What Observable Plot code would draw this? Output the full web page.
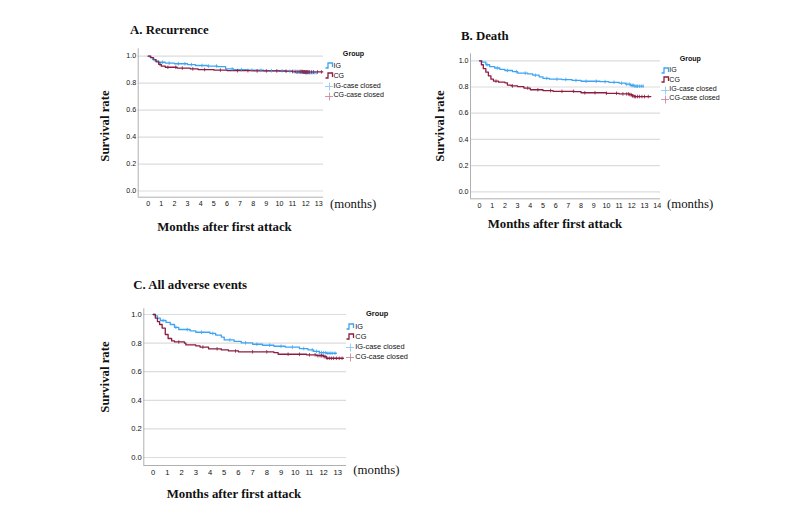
<!DOCTYPE html>
<html><head><meta charset="utf-8">
<script src="https://cdn.jsdelivr.net/npm/d3@7"></script>
<script src="https://cdn.jsdelivr.net/npm/@observablehq/plot@0.6"></script>
<style>
body{margin:0;background:#fff;}
#wrap{position:relative;width:800px;height:511px;overflow:hidden;background:#fff;}
#wrap svg.layer{position:absolute;left:0;top:0;background:transparent;}
.t{position:absolute;white-space:nowrap;line-height:1;}
.serifB{font-family:"Liberation Serif","Times New Roman",serif;font-weight:bold;color:#111;}
.serif{font-family:"Liberation Serif","Times New Roman",serif;color:#111;}
.leg{font-family:"Liberation Sans",Arial,sans-serif;color:#111;}
</style></head>
<body><div id="wrap"></div>
<script>
// ---------- data ----------
const monthsA = [0,1,2,3,4,5,6,7,8,9,10,11,12,13];
const monthsB = [0,1,2,3,4,5,6,7,8,9,10,11,12,13,14];
const monthsC = [0,1,2,3,4,5,6,7,8,9,10,11,12,13];
const yTicks = [0,0.2,0.4,0.6,0.8,1.0];
const groupLabels = ["IG","CG","IG-case closed","CG-case closed"];
const panelTitles = ["A. Recurrence","B. Death","C. All adverse events"];
const yTitle = "Survival rate";
const xTitle = "Months after first attack";
const unitLabel = "(months)";

// [month, survival] – Kaplan-Meier steps
const recurIG = [[0,1.0],[0.15,0.99],[0.35,0.975],[0.55,0.965],[0.8,0.955],[1.3,0.949],[2.0,0.944],[3.0,0.938],[3.6,0.931],[4.5,0.927],[5.3,0.922],[5.9,0.906],[6.5,0.9],[7.5,0.896],[8.8,0.892],[10.5,0.888],[11.2,0.882],[12.0,0.878],[12.8,0.878]];
const recurCG = [[0,1.0],[0.2,0.99],[0.4,0.975],[0.6,0.958],[0.8,0.94],[1.0,0.926],[1.3,0.918],[2.2,0.912],[3.2,0.906],[3.8,0.901],[5.0,0.897],[6.0,0.893],[8.0,0.891],[10.0,0.889],[11.0,0.886],[11.8,0.883],[13.3,0.883]];
const deathIG = [[0,1.0],[0.2,0.99],[0.5,0.97],[0.8,0.955],[1.2,0.945],[1.6,0.934],[2.0,0.926],[2.6,0.918],[3.0,0.906],[3.8,0.9],[4.2,0.89],[4.7,0.878],[5.0,0.866],[5.5,0.86],[6.5,0.857],[7.3,0.85],[8.0,0.844],[9.5,0.841],[10.2,0.836],[11.0,0.829],[11.5,0.822],[11.9,0.812],[12.2,0.806],[12.9,0.806]];
const deathCG = [[0,1.0],[0.15,0.97],[0.3,0.94],[0.5,0.913],[0.7,0.885],[0.9,0.86],[1.1,0.845],[1.5,0.837],[2.0,0.832],[2.2,0.815],[2.5,0.808],[3.0,0.803],[3.5,0.792],[4.0,0.779],[5.0,0.773],[5.8,0.767],[7.5,0.764],[8.0,0.756],[10.0,0.752],[11.0,0.747],[11.8,0.742],[12.0,0.733],[12.2,0.727],[13.5,0.727]];
const allIG = [[0,1.0],[0.15,0.99],[0.3,0.975],[0.5,0.958],[0.9,0.945],[1.2,0.93],[1.5,0.91],[1.8,0.895],[2.6,0.885],[3.0,0.876],[4.0,0.868],[4.4,0.856],[4.8,0.842],[5.0,0.822],[5.7,0.812],[6.2,0.802],[7.0,0.792],[7.7,0.785],[8.5,0.778],[9.3,0.772],[10.3,0.762],[10.9,0.752],[11.3,0.742],[11.7,0.733],[12.2,0.729],[12.9,0.729]];
const allCG = [[0,1.0],[0.15,0.975],[0.3,0.95],[0.45,0.93],[0.63,0.905],[0.85,0.86],[1.05,0.832],[1.3,0.815],[1.5,0.808],[2.2,0.8],[2.3,0.787],[3.0,0.78],[3.3,0.772],[3.9,0.76],[4.8,0.752],[5.3,0.745],[6.0,0.739],[8.5,0.733],[8.8,0.722],[10.8,0.718],[11.5,0.712],[12.0,0.705],[12.2,0.694],[13.4,0.694]];

// censoring times (months)
const recurIGCensor = [0.45,1.1,1.6,2.3,2.8,3.3,4.1,4.6,5.2,6.4,7.1,7.9,8.6,9.4,10.2,10.8,11.1,11.3,11.4,11.5,11.6,11.7,11.8,11.85,11.9,11.95,12.0,12.05,12.1,12.2,12.3,12.4,12.5,12.65,12.8];
const recurCGCensor = [0.9,1.5,2.1,2.6,3.4,4.3,5.5,6.8,7.6,8.3,9.0,9.8,10.5,11.0,11.2,11.35,11.5,11.6,11.7,11.75,11.8,11.85,11.9,11.95,12.0,12.05,12.1,12.15,12.2,12.3,12.45,12.6,12.9,13.2];
const deathIGCensor = [0.6,1.4,2.2,2.9,3.6,4.4,5.3,6.1,6.8,7.6,8.4,9.2,9.9,10.6,11.2,11.6,11.8,11.95,12.05,12.15,12.25,12.35,12.45,12.6,12.75,12.9];
const deathCGCensor = [1.3,2.6,3.8,4.6,5.6,6.5,7.4,8.3,9.1,10.0,10.8,11.3,11.6,11.75,11.85,11.95,12.05,12.1,12.2,12.3,12.45,12.6,12.8,13.0,13.3];
const allIGCensor = [0.7,1.6,2.4,3.4,4.2,5.4,6.5,7.3,8.2,9.0,9.8,10.6,11.2,11.5,11.7,11.85,12.0,12.15,12.3,12.45,12.6,12.8];
const allCGCensor = [1.8,3.5,4.5,5.8,7.0,8.0,9.5,10.3,11.0,11.4,11.6,11.75,11.85,11.95,12.05,12.15,12.25,12.4,12.55,12.7,12.9,13.1,13.3];

// ---------- style ----------
const IG_COLOR = "#3ca4f4", CG_COLOR = "#8c1d40";
const IG_LIGHT = "#8ccbf8", CG_LIGHT = "#c98aa0";

// ---------- layout ----------
const panels = [
  {title:panelTitles[0], ticks:monthsA, ig:recurIG, cg:recurCG, igC:recurIGCensor, cgC:recurCGCensor,
   x0:147.7, ppm:13.123, left:137.7, right:323, y0:190.5, y1:55.7, top:48.3, bottom:196.7, font:7.1,
   titleXY:[130,30], yTitleXY:[105,125.5], xTitleXY:[224.5,227], unitXY:[330,203.5],
   leg:{groupX:353.5, groupY:55, iconX:325, textX:333.5, rows:[66.7,76.7,86.7,96.3], fs:7.1}},
  {title:panelTitles[1], ticks:monthsB, ig:deathIG, cg:deathCG, igC:deathIGCensor, cgC:deathCGCensor,
   x0:479, ppm:12.69, left:470, right:660, y0:191.3, y1:60.3, top:53.3, bottom:198.3, font:7.1,
   titleXY:[461,36], yTitleXY:[440,125.8], xTitleXY:[555,224], unitXY:[667,203.5],
   leg:{groupX:690.3, groupY:60, iconX:660.5, textX:669.3, rows:[71,80.7,90,99.3], fs:7.1}},
  {title:panelTitles[2], ticks:monthsC, ig:allIG, cg:allCG, igC:allIGCensor, cgC:allCGCensor,
   x0:152.7, ppm:14.2, left:143.3, right:346, y0:457, y1:314, top:308.3, bottom:465, font:7.6,
   titleXY:[133.3,285], yTitleXY:[105,376.7], xTitleXY:[234,494], unitXY:[353.3,470],
   leg:{groupX:377.2, groupY:314, iconX:346, textX:355.3, rows:[327.3,337.3,347.3,357.3], fs:7.4}}
];

function stepAt(curve, t){ let v = curve[0][1]; for (const [tt,s] of curve){ if (tt <= t) v = s; else break; } return v; }
const censorSym = {draw(ctx, size){ const r = Math.sqrt(size/Math.PI); ctx.moveTo(0,-r); ctx.lineTo(0,r);} };

const wrap = document.getElementById("wrap");
function addText(txt, cls, x, y, fs, transform, extra){
  const d = document.createElement("div");
  d.className = "t " + cls;
  d.textContent = txt;
  d.style.left = x + "px"; d.style.top = y + "px";
  d.style.fontSize = fs + "px";
  d.style.transform = transform;
  if (extra) Object.assign(d.style, extra);
  wrap.appendChild(d);
  return d;
}
function stepIcon(color){
  return `<svg width="9" height="7" style="position:absolute;left:0;top:0" viewBox="0 0 9 7"><path d="M0.5,6 H3 V1 H7.5 V5" fill="none" stroke="${color}" stroke-width="1.3"/></svg>`;
}
function plusIcon(color){
  return `<svg width="9" height="9" style="position:absolute;left:0;top:0" viewBox="0 0 9 9"><path d="M4.5,0.5 V8.5 M0,4.5 H8" fill="none" stroke="${color}" stroke-width="0.9"/></svg>`;
}

for (const p of panels){
  const xDomain = [(p.left - p.x0)/p.ppm, (p.right - p.x0)/p.ppm];
  const yDomain = [(p.y0 - p.bottom)/(p.y0 - p.y1), (p.y0 - p.top)/(p.y0 - p.y1)];
  const toObj = c => c.map(([t,s]) => ({t, s}));
  const censor = (times, curve) => times.map(t => ({t, s: stepAt(curve, t)}));
  const chart = Plot.plot({
    width: 800, height: 511,
    marginLeft: p.left, marginRight: 800 - p.right, marginTop: p.top, marginBottom: 511 - p.bottom,
    style: {background: "transparent", fontFamily: "'Liberation Sans', Arial, sans-serif"},
    x: {domain: xDomain, axis: null},
    y: {domain: yDomain, axis: null},
    marks: [
      Plot.ruleY(yTicks, {stroke: "#dcdcdc", strokeWidth: 1.2}),
      Plot.ruleX([xDomain[0]], {stroke: "#b0b0b0", strokeWidth: 1}),
      Plot.ruleY([yDomain[0]], {stroke: "#b0b0b0", strokeWidth: 1}),
      Plot.axisX(p.ticks, {tickSize: 0, tickPadding: 4, label: null, fontSize: p.font, fill: "#111", tickFormat: d => String(d)}),
      Plot.axisY(yTicks, {tickSize: 0, tickPadding: 2, label: null, fontSize: p.font, fill: "#111", tickFormat: d => d.toFixed(1)}),
      Plot.line(toObj(p.ig), {x: "t", y: "s", curve: "step-after", stroke: IG_COLOR, strokeWidth: 1.3}),
      Plot.line(toObj(p.cg), {x: "t", y: "s", curve: "step-after", stroke: CG_COLOR, strokeWidth: 1.3}),
      Plot.dot(censor(p.igC, p.ig), {x: "t", y: "s", symbol: censorSym, r: 1.8, stroke: IG_COLOR, strokeWidth: 0.8, fill: "none"}),
      Plot.dot(censor(p.cgC, p.cg), {x: "t", y: "s", symbol: censorSym, r: 1.8, stroke: CG_COLOR, strokeWidth: 0.8, fill: "none"})
    ]
  });
  chart.classList.add("layer");
  wrap.appendChild(chart);

  addText(p.title, "serifB", p.titleXY[0], p.titleXY[1], 12.8, "translateY(-50%)");
  addText(yTitle, "serifB", p.yTitleXY[0], p.yTitleXY[1], 12.8, "translate(-50%,-50%) rotate(-90deg)");
  addText(xTitle, "serifB", p.xTitleXY[0], p.xTitleXY[1], 12.8, "translate(-50%,-50%)");
  addText(unitLabel, "serif", p.unitXY[0], p.unitXY[1], 12.8, "translateY(-50%)");

  const L = p.leg;
  addText("Group", "leg", L.groupX, L.groupY, L.fs, "translate(-50%,-50%)", {fontWeight: "bold"});
  const icons = [stepIcon(IG_COLOR), stepIcon(CG_COLOR), plusIcon(IG_LIGHT), plusIcon(CG_LIGHT)];
  groupLabels.forEach((lab, i) => {
    addText(lab, "leg", L.textX, L.rows[i], L.fs, "translateY(-50%)");
    const ic = document.createElement("div");
    ic.style.position = "absolute";
    ic.style.left = L.iconX + "px";
    ic.style.top = (L.rows[i] - 4.5) + "px";
    ic.style.width = "9px"; ic.style.height = "9px";
    ic.innerHTML = icons[i];
    wrap.appendChild(ic);
  });
}
</script></body></html>
